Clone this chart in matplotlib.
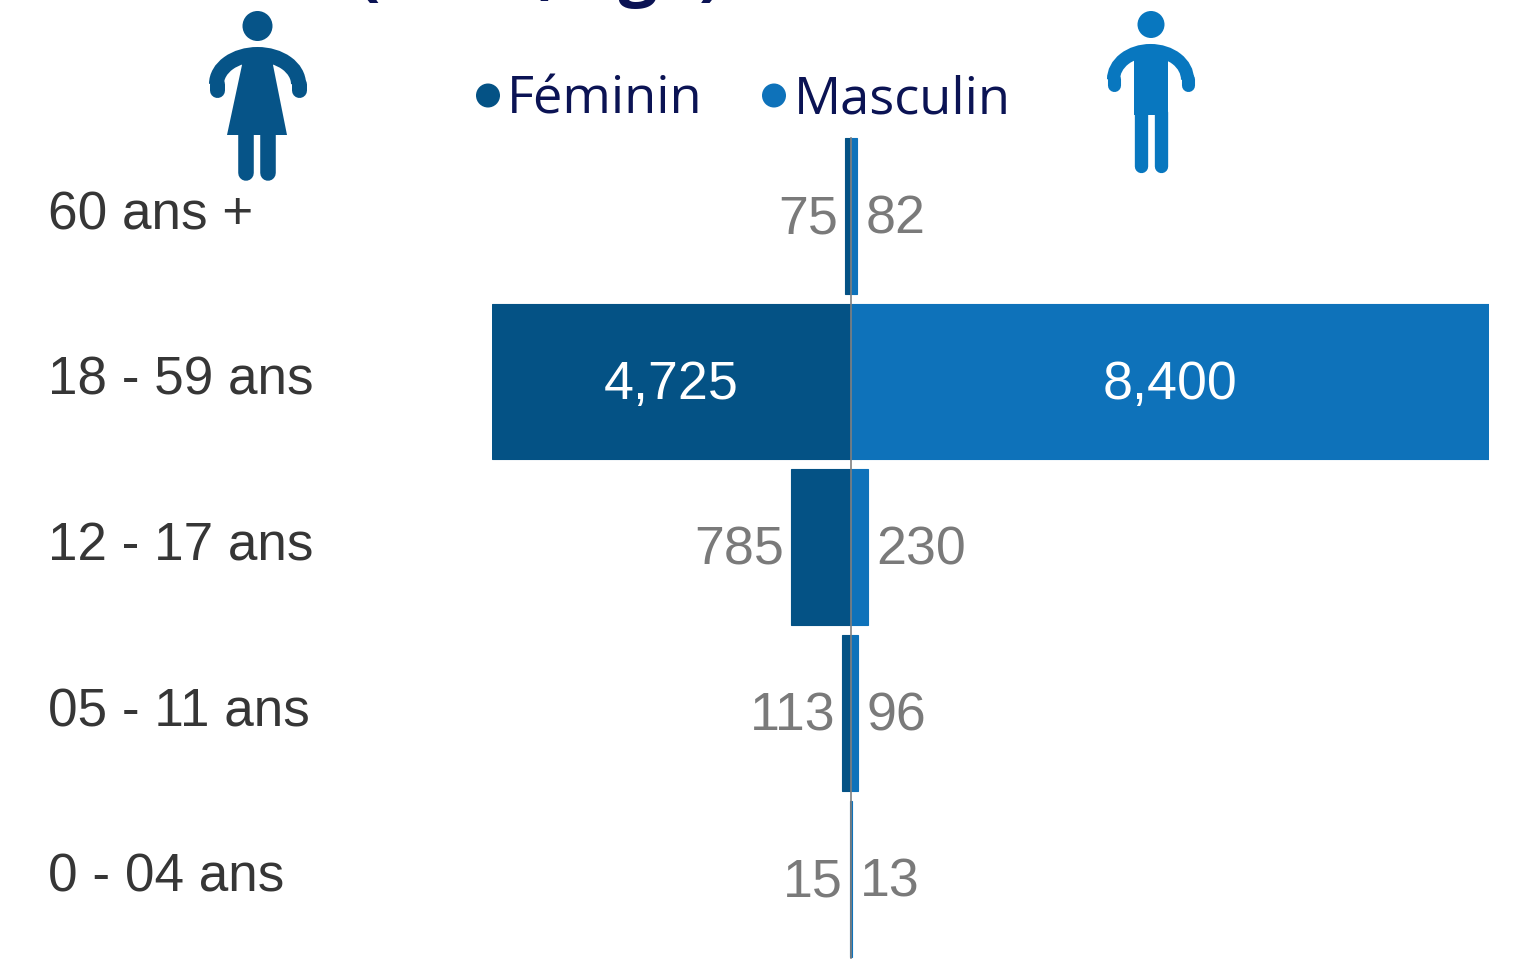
import matplotlib
matplotlib.use('Agg')
import matplotlib.pyplot as plt
from matplotlib.patches import Circle, Polygon, Arc

# Data
categories = ['60 ans +', '18 - 59 ans', '12 - 17 ans', '05 - 11 ans', '0 - 04 ans']
feminin = [75, 4725, 785, 113, 15]
masculin = [82, 8400, 230, 96, 13]
feminin_labels = ['75', '4,725', '785', '113', '15']
masculin_labels = ['82', '8,400', '230', '96', '13']

DARK = '#045285'
BLUE = '#0E72BA'
NAVY = '#0B1354'
GREY = '#7A7A7A'
W, H = 1527, 963

plt.rcParams['font.family'] = ['Liberation Sans', 'DejaVu Sans']

fig = plt.figure(figsize=(W / 100, H / 100), dpi=100)

# Chart area, placed so that the bars land on the reference pixels
left, right, top, bottom = 492, 1489, 133, 961.5
ax = fig.add_axes([left / W, 1 - bottom / H, (right - left) / W, (bottom - top) / H])
ax.set_xlim(-4725, 8400)
ax.set_ylim(4.5, -0.5)
ax.axis('off')

y = range(len(categories))
ax.barh(y, [-v for v in feminin], height=0.94, color=DARK, edgecolor=DARK, lw=0.8)
ax.barh(y, masculin, height=0.94, color=BLUE, edgecolor=BLUE, lw=0.8)
ax.axvline(0, ymin=0.004, ymax=0.994, color='#808080', lw=1.2)

for i in y:
    if feminin[i] > 1000:
        ax.annotate(feminin_labels[i], (-feminin[i] / 2, i), xytext=(0, -2.5), textcoords='offset points',
                    ha='center', va='center', fontsize=38.7, color='white')
        ax.annotate(masculin_labels[i], (masculin[i] / 2, i), xytext=(0, -2.5), textcoords='offset points',
                    ha='center', va='center', fontsize=38.7, color='white')
    else:
        ax.annotate(feminin_labels[i], (-feminin[i], i), xytext=(-5, -2.5), textcoords='offset points',
                    ha='right', va='center', fontsize=38.7, color=GREY)
        ax.annotate(masculin_labels[i], (masculin[i], i), xytext=(6, -2.5), textcoords='offset points',
                    ha='left', va='center', fontsize=38.7, color=GREY)

# Category labels on the left
for i, cat in zip(y, categories):
    ax.annotate(cat, (0, i), xycoords=('figure pixels', 'data'), xytext=(34.8, 0.6),
                textcoords='offset points', ha='left', va='center', fontsize=38.2, color='#363636')

# Overlay in pixel coordinates for the legend, the icons and the cut off title
over = fig.add_axes([0, 0, 1, 1])
over.set_xlim(0, W)
over.set_ylim(H, 0)
over.axis('off')
over.patch.set_alpha(0)

over.text(540, -8, '(Sexe, âge)', ha='center', va='baseline', fontsize=50, fontweight='bold',
          color=NAVY, family=['Open Sans', 'DejaVu Sans'], clip_on=False)

over.add_patch(Circle((488, 95.5), 12, color=DARK, lw=0))
over.add_patch(Circle((774, 95.5), 12, color=BLUE, lw=0))
over.text(507, 113, 'Féminin', fontsize=37.7, color=NAVY, family=['Open Sans', 'DejaVu Sans'])
over.text(794, 113, 'Masculin', fontsize=37.7, color=NAVY, family=['Open Sans', 'DejaVu Sans'])


def limb(x0, y0, x1, y1, color, lw):
    over.plot([x0, x1], [y0, y1], color=color, lw=lw, solid_capstyle='round')


def arms(cx, cy, half, semi, color, lw):
    # shoulders drawn as a thick half ellipse, straight forearms with round ends
    over.add_patch(Arc((cx, cy - 6), half * 2, (semi - 6) * 2, theta1=180, theta2=360, color=color, lw=lw))
    limb(cx - half, cy - 6, cx - half, cy, color, lw)
    limb(cx + half, cy - 6, cx + half, cy, color, lw)


# Woman
WOMAN = '#065488'
over.add_patch(Circle((257.5, 26), 15, color=WOMAN, lw=0))
arms(257.5, 90, 41, 35.5, WOMAN, 10.8)
over.add_patch(Polygon([(242, 55), (273, 55), (273, 65), (287, 135), (227, 135), (242, 65)],
                       closed=True, color=WOMAN, lw=0))
limb(245.75, 133, 245.75, 173.2, WOMAN, 11.2)
limb(268.25, 133, 268.25, 173.2, WOMAN, 11.2)

# Man
MAN = '#0877BF'
over.add_patch(Circle((1151, 24.5), 13.5, color=MAN, lw=0))
arms(1150.5, 85.5, 37, 35, MAN, 9.4)
over.add_patch(Polygon([(1134, 52), (1167.7, 52), (1167.7, 115), (1134, 115)], closed=True, color=MAN, lw=0))
limb(1140.7, 112, 1140.7, 166.4, MAN, 9.6)
limb(1161, 112, 1161, 166.4, MAN, 9.6)

fig.savefig('out.png', dpi=100)
